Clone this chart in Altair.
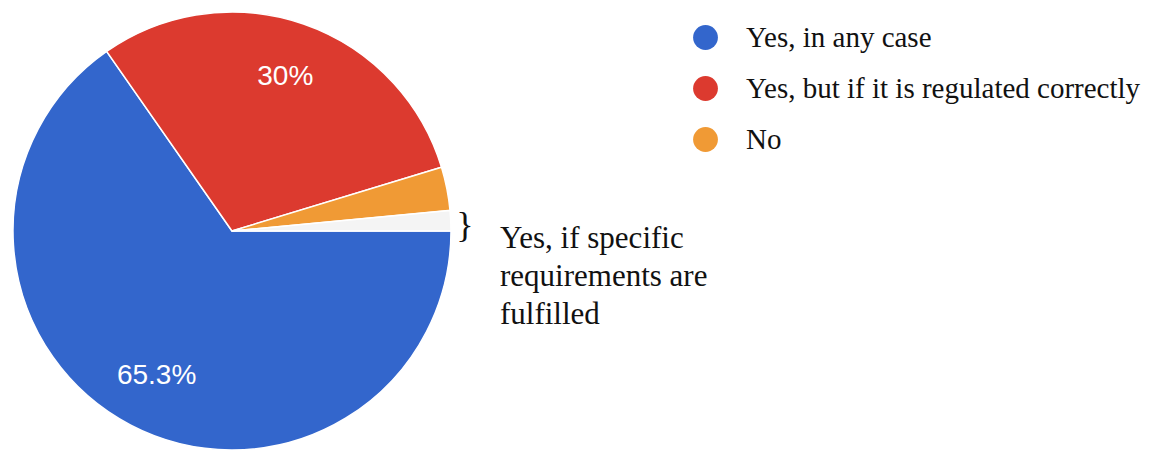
import math
import altair as alt
import pandas as pd

categories = ["Yes, in any case", "Yes, but if it is regulated correctly", "No",
              "Yes, if specific requirements are fulfilled"]
values = [65.3, 30.0, 3.2, 1.5]
slice_labels = ["65.3%", "30%", "", ""]
colors = ["#3366cc", "#dc3a2f", "#f09a35", "#f4f4f4"]
legend_entries = categories[:3]
annotation_lines = ["Yes, if specific", "requirements are", "fulfilled"]
brace = ["}"]

df = pd.DataFrame({
    "category": categories,
    "value": values,
    "label": slice_labels,
    "idx": list(range(len(categories))),
})

CX, CY, R = 232, 231, 219

theta = alt.Theta("value:Q", stack=True,
                  scale=alt.Scale(range=[math.pi / 2, math.pi / 2 + 2 * math.pi]))
color = alt.Color(
    "category:N",
    scale=alt.Scale(domain=categories, range=colors),
    legend=alt.Legend(
        values=legend_entries, title=None, orient="none",
        legendX=691, legendY=23, padding=0,
        symbolType="circle", symbolSize=615, symbolStrokeWidth=0,
        labelFont="Liberation Serif", labelFontSize=29, labelColor="#111111",
        labelOffset=26, rowPadding=21, labelLimit=600,
    ),
)
order = alt.Order("idx:Q")

base = alt.Chart(df)

pie = base.mark_arc(radius=R, stroke="white", strokeWidth=1.5, x=CX, y=CY).encode(
    theta=theta, color=color, order=order
)

texts = base.mark_text(radius=163, x=CX, y=CY, font="Liberation Sans", fontSize=28,
                       color="white", align="center", baseline="middle").encode(
    theta=theta, text="label:N", order=order
)

brace_df = pd.DataFrame({"t": brace})
brace_mark = alt.Chart(brace_df).mark_text(
    font="Liberation Serif", fontSize=36, color="#111111", align="center",
    baseline="alphabetic"
).encode(text="t:N", x=alt.value(465), y=alt.value(237))

ann = alt.Chart(pd.DataFrame({"k": [0]})).mark_text(
    font="Liberation Serif", fontSize=31, color="#111111", align="left",
    baseline="alphabetic", lineHeight=38, text=annotation_lines
).encode(x=alt.value(500), y=alt.value(248))

chart = alt.layer(pie, texts, brace_mark, ann).properties(
    width=1154, height=451, padding=0,
    autosize=alt.AutoSizeParams(type="none"),
    background="white",
).configure_view(stroke=None)

chart.save("out.html", embed_options={"renderer": "svg", "actions": False})
